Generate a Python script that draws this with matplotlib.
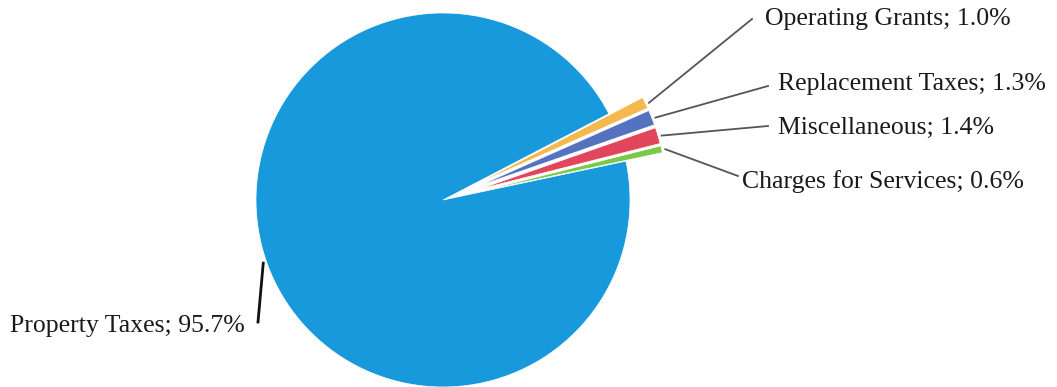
import numpy as np
import matplotlib
matplotlib.use("Agg")
import matplotlib.pyplot as plt

# revenue shares, counterclockwise from the small slices
labels = ["Charges for Services", "Miscellaneous", "Replacement Taxes",
          "Operating Grants", "Property Taxes"]
shares = [0.6, 1.4, 1.3, 1.0, 95.7]
colors = ["#7CC94A", "#E2465C", "#5472C0", "#F4B94C", "#1899DB"]
explode = [0.2, 0.2, 0.2, 0.2, 0.0]

# label text anchors (pixels) and leader line ends
text_pos = [(742, 182), (778, 84), (778, 128), (765, 19), (245, 326)]
text_pos = [text_pos[0], text_pos[2], text_pos[1], text_pos[3], text_pos[4]]
line_end = [(738, 176), (768, 126), (768, 86), (752, 19), (258, 322)]

W, H = 1057, 387
cx, cy, R = 443, 200, 187


def to_data(p):
    return ((p[0] - cx) / R, (cy - p[1]) / R)


fig = plt.figure(figsize=(W / 100, H / 100), dpi=100)
ax = fig.add_axes([0, 0, 1, 1])
wedges, _ = ax.pie(shares, colors=colors, explode=explode, startangle=12,
                   counterclock=True,
                   wedgeprops=dict(edgecolor="white", linewidth=0.5))
ax.set_xlim(-cx / R, (W - cx) / R)
ax.set_ylim(-(H - cy) / R, cy / R)
ax.set_aspect("auto")
ax.axis("off")

for i, w in enumerate(wedges):
    mid = np.deg2rad((w.theta1 + w.theta2) / 2)
    x0 = w.center[0] + w.r * np.cos(mid)
    y0 = w.center[1] + w.r * np.sin(mid)
    if labels[i] == "Property Taxes":
        x0 -= 0.02
        lc, lw, ha = "#111111", 2.0, "right"
    else:
        x0 += 0.02
        lc, lw, ha = "#555555", 1.3, "left"
    ex, ey = to_data(line_end[i])
    ax.plot([x0, ex], [y0, ey], color=lc, lw=lw)
    tx, ty = to_data(text_pos[i])
    ax.text(tx, ty, f"{labels[i]}; {shares[i]:.1f}%", ha=ha, va="center",
            fontsize=18.5, family="Liberation Serif", color="#1a1a1a")

fig.savefig("out.png", dpi=100)
